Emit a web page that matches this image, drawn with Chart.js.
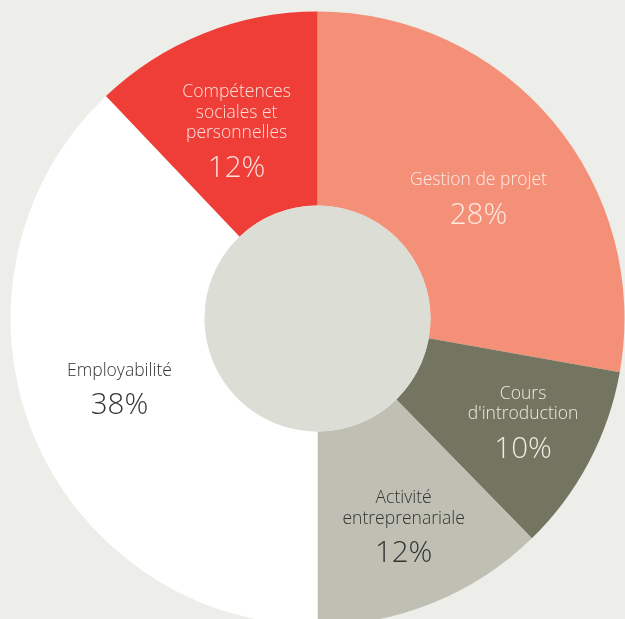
<!DOCTYPE html>
<html>
<head>
<meta charset="utf-8">
<script src="https://cdn.jsdelivr.net/npm/chart.js@4"></script>
<style>
    html, body { margin: 0; padding: 0; background: #ededE9; overflow: hidden; }
    #wrap { width: 625px; height: 619px; overflow: hidden; position: relative; }
    canvas { position: absolute; left: 0; top: 0; }
</style>
</head>
<body>
<div id="wrap"><canvas id="donut" width="635" height="637"></canvas></div>
<script>
// Shares per category, clockwise from 12 o'clock
const categories = ['Gestion de projet', "Cours d'introduction", 'Activité entreprenariale', 'Employabilité', 'Compétences sociales et personnelles'];
const labelLines = [['Gestion de projet'], ['Cours', "d'introduction"], ['Activité', 'entreprenariale'], ['Employabilité'], ['Compétences', 'sociales et', 'personnelles']];
const shares = [27.8, 9.9, 12.3, 37.9, 12.1];

const sliceColors = ['#f59078', '#737560', '#bfc0b3', '#ffffff', '#ef3e38'];
const textColors = ['#fde9e2', '#ecece4', '#333333', '#333333', '#fde0da'];
// small hand nudges so labels sit where the original has them
const labelNudge = [[0, 14], [20, 5], [7, 13], [-3, -8], [-3, 7]];

const centerDisc = {
    id: 'centerDisc',
    afterDatasetsDraw(chart) {
        const ctx = chart.ctx;
        const meta = chart.getDatasetMeta(0);
        const first = meta.data[0];
        ctx.save();
        ctx.beginPath();
        ctx.arc(first.x, first.y, first.innerRadius, 0, Math.PI * 2);
        ctx.fillStyle = '#dcddd5';
        ctx.fill();

        meta.data.forEach((arc, i) => {
            const mid = (arc.startAngle + arc.endAngle) / 2;
            const r = (arc.innerRadius + arc.outerRadius) / 2;
            const cx = arc.x + Math.cos(mid) * r + labelNudge[i][0];
            const cy = arc.y + Math.sin(mid) * r + labelNudge[i][1];
            const lines = labelLines[i];
            const lh = 20.5;
            const gap = 35;
            const span = (lines.length - 1) * lh + gap;
            let y = cy - span / 2;
            ctx.fillStyle = textColors[i];
            ctx.textAlign = 'center';
            ctx.textBaseline = 'middle';
            ctx.font = '300 17.5px "Open Sans"';
            lines.forEach(line => {
                ctx.fillText(line, cx, y);
                y += lh;
            });
            ctx.font = '300 29.5px "Open Sans"';
            ctx.fillText(Math.round(shares[i]) + '%', cx, y - lh + gap);
        });
        ctx.restore();
    }
};

new Chart(document.getElementById('donut'), {
    type: 'doughnut',
    data: {
        labels: categories,
        datasets: [{
            data: shares,
            backgroundColor: sliceColors,
            borderWidth: 0
        }]
    },
    options: {
        responsive: false,
        animation: false,
        radius: 307,
        cutout: '36.8%',
        plugins: {
            legend: { display: false },
            tooltip: { enabled: false }
        }
    },
    plugins: [centerDisc]
});
</script>
</body>
</html>
